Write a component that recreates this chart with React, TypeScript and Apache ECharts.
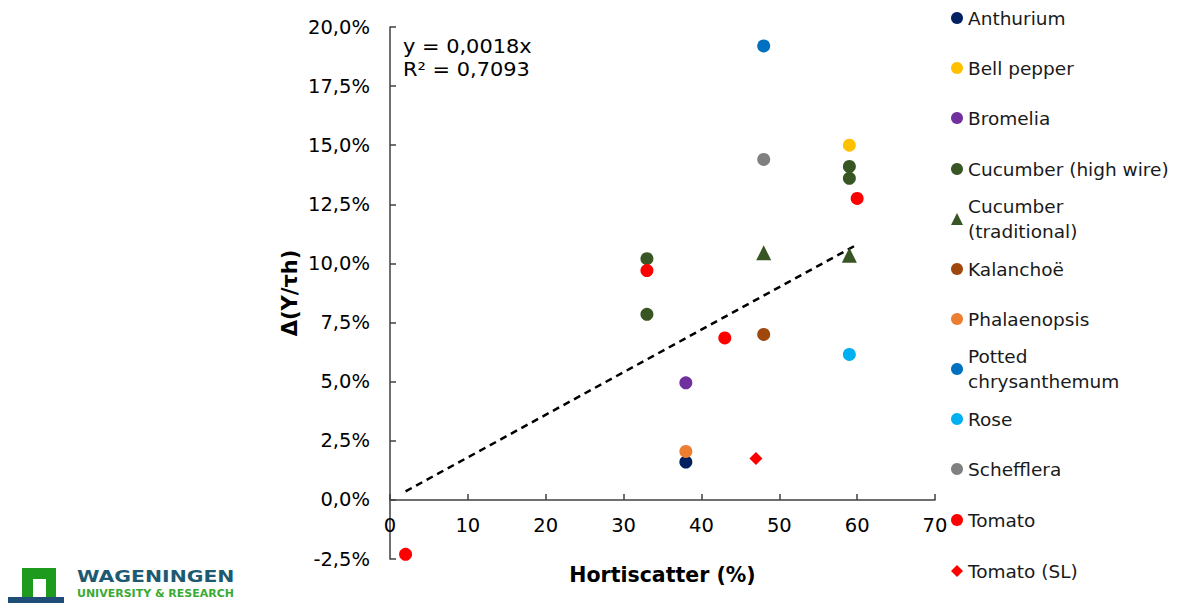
import React, { useEffect, useRef } from "react";
import * as echarts from "echarts";

const FONT = "DejaVu Sans";

const seriesNames = [
  "Anthurium",
  "Bell pepper",
  "Bromelia",
  "Cucumber (high wire)",
  "Cucumber (traditional)",
  "Kalanchoë",
  "Phalaenopsis",
  "Potted chrysanthemum",
  "Rose",
  "Schefflera",
  "Tomato",
  "Tomato (SL)",
];
const legendLabels = [
  "Anthurium",
  "Bell pepper",
  "Bromelia",
  "Cucumber (high wire)",
  "Cucumber\n(traditional)",
  "Kalanchoë",
  "Phalaenopsis",
  "Potted\nchrysanthemum",
  "Rose",
  "Schefflera",
  "Tomato",
  "Tomato (SL)",
];
const seriesColors = [
  "#002060",
  "#FFC000",
  "#7030A0",
  "#375623",
  "#375623",
  "#9E480E",
  "#ED7D31",
  "#0070C0",
  "#00B0F0",
  "#808080",
  "#FF0000",
  "#FF0000",
];
const seriesSymbols = [
  "circle", "circle", "circle", "circle", "triangle", "circle",
  "circle", "circle", "circle", "circle", "circle", "diamond",
];

// [Hortiscatter %, Δ(Y/τh) %]
const anthurium = [[38, 1.6]];
const bellPepper = [[59, 15.0]];
const bromelia = [[38, 4.95]];
const cucumberHighWire = [[33, 10.2], [33, 7.85], [59, 14.1], [59, 13.6]];
const cucumberTraditional = [[48, 10.45], [59, 10.35]];
const kalanchoe = [[48, 7.0]];
const phalaenopsis = [[38, 2.05]];
const pottedChrysanthemum = [[48, 19.2]];
const rose = [[59, 6.15]];
const schefflera = [[48, 14.4]];
const tomato = [[33, 9.7], [43, 6.85], [60, 12.75], [2, -2.3]];
const tomatoSL = [[47, 1.75]];

const seriesData = [
  anthurium, bellPepper, bromelia, cucumberHighWire, cucumberTraditional, kalanchoe,
  phalaenopsis, pottedChrysanthemum, rose, schefflera, tomato, tomatoSL,
];

// linear trendline y = 0,0018x (in % units: 0.18x), endpoints
const trendLine = [[2, 0.36], [60, 10.8]];
const equationLines = ["y = 0,0018x", "R² = 0,7093"];

const xTicks = { min: 0, max: 70, interval: 10 };
const yTicks = { min: -2.5, max: 20, interval: 2.5 };

const legendCenters = [18, 68, 118, 169, 219, 269, 319, 369, 419, 469, 520, 571];

const GRID = { left: 390, right: 249, top: 27, bottom: 45 };
const CHART_H = 604;

export default function App() {
  const ref = useRef<HTMLDivElement>(null);
  useEffect(() => {
    if (!ref.current) return;
    const chart = echarts.init(ref.current, null, { renderer: "svg" });
    const axisColor = "#404040";
    const plotH = CHART_H - GRID.top - GRID.bottom;
    // move the x axis (line, labels, name) up to where y = 0 lies
    const xAxisOffset = -plotH * (0 - yTicks.min) / (yTicks.max - yTicks.min);
    const scatterSeries = seriesNames.map((name, i) => ({
      name,
      type: "scatter",
      data: seriesData[i],
      symbol: seriesSymbols[i],
      symbolSize: seriesSymbols[i] === "triangle" ? 15 : 13,
      itemStyle: { color: seriesColors[i], opacity: 1 },
      z: 3,
    }));
    const legends = legendLabels.map((label, i) => {
      const multi = label.includes("\n");
      return {
        data: [{ name: seriesNames[i], icon: seriesSymbols[i] }],
        formatter: () => label,
        orient: "vertical",
        left: 946,
        top: legendCenters[i] - 5 - (multi ? 37.5 : 12.5),
        itemWidth: 12,
        itemHeight: 12,
        selectedMode: false,
        textStyle: {
          fontFamily: FONT,
          fontSize: 18.5,
          color: "#1a1a1a",
          lineHeight: 25,
          padding: multi ? [25, 0, 0, 0] : 0,
        },
      };
    });
    chart.setOption({
      animation: false,
      backgroundColor: "#ffffff",
      textStyle: { fontFamily: FONT },
      grid: { ...GRID, outerBoundsMode: "none" },
      legend: legends,
      xAxis: {
        type: "value",
        min: xTicks.min,
        max: xTicks.max,
        interval: xTicks.interval,
        offset: xAxisOffset,
        name: "Hortiscatter (%)",
        nameLocation: "middle",
        nameGap: 65,
        nameTextStyle: { fontFamily: FONT, fontSize: 20.5, fontWeight: "bold", color: "#000" },
        axisLine: { onZero: false, lineStyle: { color: axisColor, width: 1.5 } },
        axisTick: { inside: true, length: 6, lineStyle: { color: axisColor, width: 1.5 } },
        axisLabel: { fontFamily: FONT, fontSize: 19.5, color: "#000", margin: 16 },
        splitLine: { show: false },
      },
      yAxis: {
        type: "value",
        min: yTicks.min,
        max: yTicks.max,
        interval: yTicks.interval,
        name: "Δ(Y/τh)",
        nameLocation: "middle",
        nameGap: 90,
        nameTextStyle: { fontFamily: FONT, fontSize: 21, fontWeight: "bold", color: "#000" },
        axisLine: { show: true, onZero: false, lineStyle: { color: axisColor, width: 1.5 } },
        axisTick: { show: true, inside: true, length: 6, lineStyle: { color: axisColor, width: 1.5 } },
        axisLabel: {
          fontFamily: FONT,
          fontSize: 19.5,
          color: "#000",
          margin: 20,
          formatter: (v: number) => v.toFixed(1).replace(".", ",") + "%",
        },
        splitLine: { show: false },
      },
      series: [
        ...scatterSeries,
        {
          name: "trend",
          type: "line",
          data: trendLine,
          symbol: "none",
          lineStyle: { color: "#000", width: 2.5, type: [7, 5] },
          z: 2,
          silent: true,
        },
      ],
      graphic: [
        {
          type: "text",
          left: 403,
          top: 35,
          scaleX: 1.1,
          style: {
            text: equationLines.join("\n"),
            font: `19px '${FONT}'`,
            lineHeight: 23,
            fill: "#000",
          },
        },
        {
          type: "group",
          left: 8,
          top: 568,
          children: [
            { type: "rect", shape: { x: 14, y: 1, width: 34, height: 31 }, style: { fill: "#1E9A1E" } },
            { type: "rect", shape: { x: 25, y: 12, width: 13, height: 20 }, style: { fill: "#ffffff" } },
            { type: "rect", shape: { x: 0, y: 30, width: 56, height: 6 }, style: { fill: "#1F4E79" } },
          ],
        },
        {
          type: "text",
          left: 77,
          top: 569,
          scaleX: 1.36,
          style: {
            text: "WAGENINGEN",
            font: `bold 15px '${FONT}'`,
            fill: "#1D5A72",
          },
        },
        {
          type: "text",
          left: 77,
          top: 588,
          scaleX: 1.1,
          style: {
            text: "UNIVERSITY & RESEARCH",
            font: `bold 10px '${FONT}'`,
            fill: "#3AAA35",
          },
        },
      ],
    });
    return () => chart.dispose();
  }, []);
  return (
    <div
      ref={ref}
      style={{ position: "absolute", left: 0, top: 0, width: 1184, height: 604 }}
    />
  );
}
